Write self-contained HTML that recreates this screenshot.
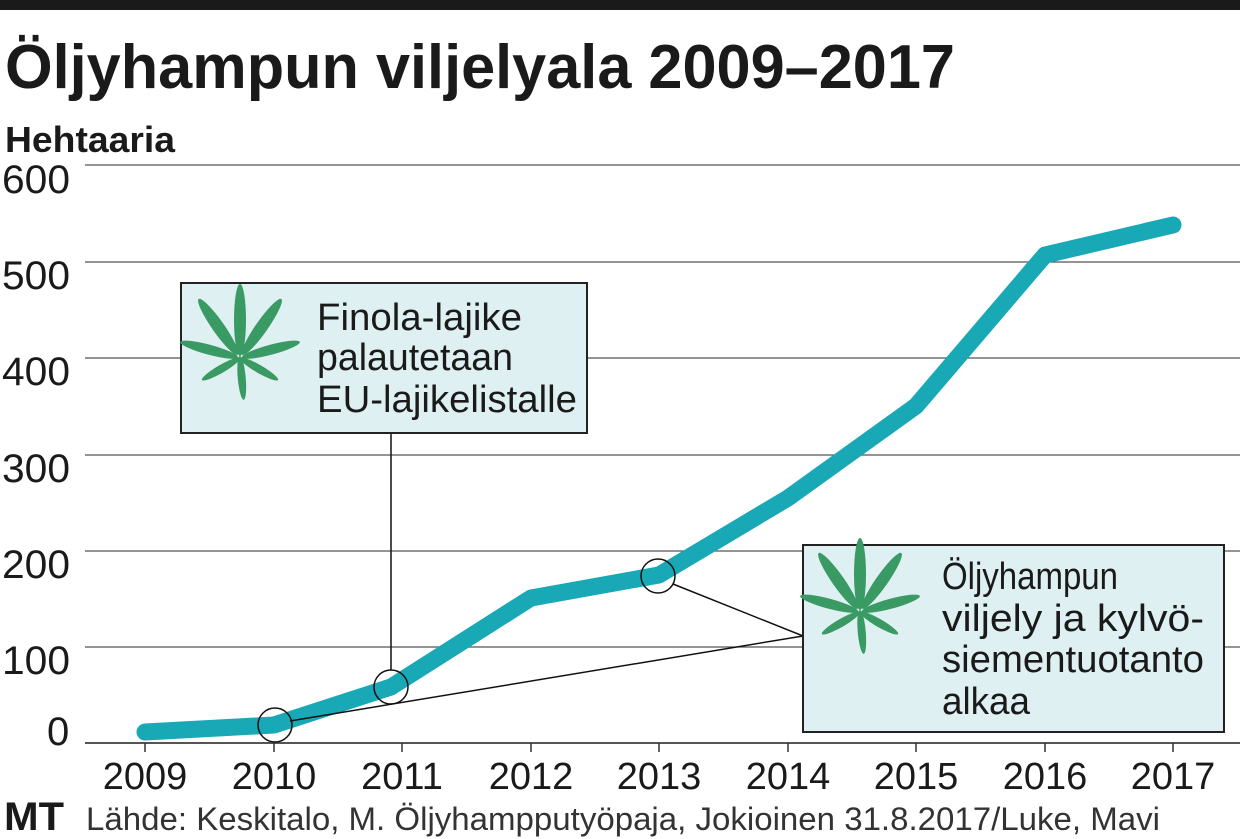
<!DOCTYPE html><html><head><meta charset="utf-8"><style>body{margin:0;background:#fff}svg{display:block}text{font-family:"Liberation Sans",sans-serif}</style></head><body>
<svg width="1240" height="839" viewBox="0 0 1240 839">
<defs><g id="leaf" fill="#3a9a63">
<ellipse cx="0" cy="-38" rx="6" ry="36"/>
<ellipse cx="0" cy="-38" rx="6" ry="34" transform="rotate(-35)"/>
<ellipse cx="0" cy="-38" rx="6" ry="34" transform="rotate(35)"/>
<ellipse cx="0" cy="-32" rx="5" ry="30" transform="rotate(-75)"/>
<ellipse cx="0" cy="-32" rx="5" ry="30" transform="rotate(75)"/>
<ellipse cx="0" cy="-22" rx="4" ry="22" transform="rotate(-120)"/>
<ellipse cx="0" cy="-22" rx="4" ry="22" transform="rotate(120)"/>
<ellipse cx="0" cy="-20" rx="4" ry="22" transform="rotate(175)"/>
</g></defs>
<rect x="0" y="0" width="1240" height="10" fill="#1a1a1a"/>
<text x="5" y="88" font-size="62" font-weight="bold" fill="#1a1a1a" textLength="950" lengthAdjust="spacingAndGlyphs">Öljyhampun viljelyala 2009–2017</text>
<text x="5" y="152" font-size="36" font-weight="bold" fill="#1a1a1a" textLength="170" lengthAdjust="spacingAndGlyphs">Hehtaaria</text>
<g stroke="#555" stroke-width="1.3">
<line x1="85" y1="165" x2="1240" y2="165"/><line x1="85" y1="262" x2="1240" y2="262"/><line x1="85" y1="358" x2="1240" y2="358"/><line x1="85" y1="455" x2="1240" y2="455"/><line x1="85" y1="551" x2="1240" y2="551"/><line x1="85" y1="647" x2="1240" y2="647"/>
<line x1="85" y1="743" x2="1240" y2="743" stroke-width="2"/>
</g>
<g stroke="#333" stroke-width="1.5">
<line x1="145" y1="743" x2="145" y2="752"/><line x1="274" y1="743" x2="274" y2="752"/><line x1="402" y1="743" x2="402" y2="752"/><line x1="531" y1="743" x2="531" y2="752"/><line x1="659" y1="743" x2="659" y2="752"/><line x1="788" y1="743" x2="788" y2="752"/><line x1="916" y1="743" x2="916" y2="752"/><line x1="1045" y1="743" x2="1045" y2="752"/><line x1="1173" y1="743" x2="1173" y2="752"/>
</g>
<g font-size="40" fill="#1a1a1a">
<text x="2" y="193" textLength="68" lengthAdjust="spacingAndGlyphs">600</text><text x="2" y="289" textLength="68" lengthAdjust="spacingAndGlyphs">500</text><text x="2" y="385" textLength="68" lengthAdjust="spacingAndGlyphs">400</text><text x="2" y="482" textLength="68" lengthAdjust="spacingAndGlyphs">300</text><text x="2" y="578" textLength="68" lengthAdjust="spacingAndGlyphs">200</text><text x="2" y="674" textLength="68" lengthAdjust="spacingAndGlyphs">100</text><text x="47" y="745">0</text>
</g>
<g font-size="38" fill="#1a1a1a" text-anchor="middle">
<text x="145" y="789">2009</text><text x="274" y="789">2010</text><text x="402" y="789">2011</text><text x="531" y="789">2012</text><text x="659" y="789">2013</text><text x="788" y="789">2014</text><text x="916" y="789">2015</text><text x="1045" y="789">2016</text><text x="1173" y="789">2017</text>
</g>
<polyline points="145,732 274,725 391,687 531,598 659,575 788,498 916,406 1045,255 1173,225" fill="none" stroke="#18a8b6" stroke-width="17" stroke-linecap="round" stroke-linejoin="round"/>
<g stroke="#111" stroke-width="1.5" fill="none">
<line x1="391" y1="433" x2="391" y2="670"/>
<line x1="290" y1="721" x2="803" y2="636"/>
<line x1="673" y1="584" x2="803" y2="636"/>
<circle cx="275" cy="725" r="17"/><circle cx="391" cy="687" r="17"/><circle cx="658" cy="576" r="17"/>
</g>
<rect x="181" y="283" width="406" height="150" fill="#dff0f3" stroke="#222" stroke-width="2"/>
<use href="#leaf" transform="translate(240,358)"/>
<g font-size="38" fill="#1a1a1a"><text x="317" y="330" textLength="205" lengthAdjust="spacingAndGlyphs">Finola-lajike</text><text x="317" y="370" textLength="196" lengthAdjust="spacingAndGlyphs">palautetaan</text><text x="317" y="412" textLength="260" lengthAdjust="spacingAndGlyphs">EU-lajikelistalle</text></g>
<rect x="803" y="545" width="421" height="187" fill="#dff0f3" stroke="#222" stroke-width="2"/>
<use href="#leaf" transform="translate(860,612)"/>
<g font-size="38" fill="#1a1a1a"><text x="942" y="589" textLength="176" lengthAdjust="spacingAndGlyphs">Öljyhampun</text><text x="942" y="631" textLength="262" lengthAdjust="spacingAndGlyphs">viljely ja kylvö-</text><text x="942" y="672" textLength="262" lengthAdjust="spacingAndGlyphs">siementuotanto</text><text x="942" y="714" textLength="88" lengthAdjust="spacingAndGlyphs">alkaa</text></g>
<text x="4" y="830" font-size="40" font-weight="bold" font-family="Liberation Serif,serif" fill="#1a1a1a" textLength="60" lengthAdjust="spacingAndGlyphs">MT</text>
<text x="86" y="830" font-size="32" fill="#333" textLength="1074" lengthAdjust="spacingAndGlyphs">Lähde: Keskitalo, M. Öljyhampputyöpaja, Jokioinen 31.8.2017/Luke, Mavi</text>
</svg></body></html>
